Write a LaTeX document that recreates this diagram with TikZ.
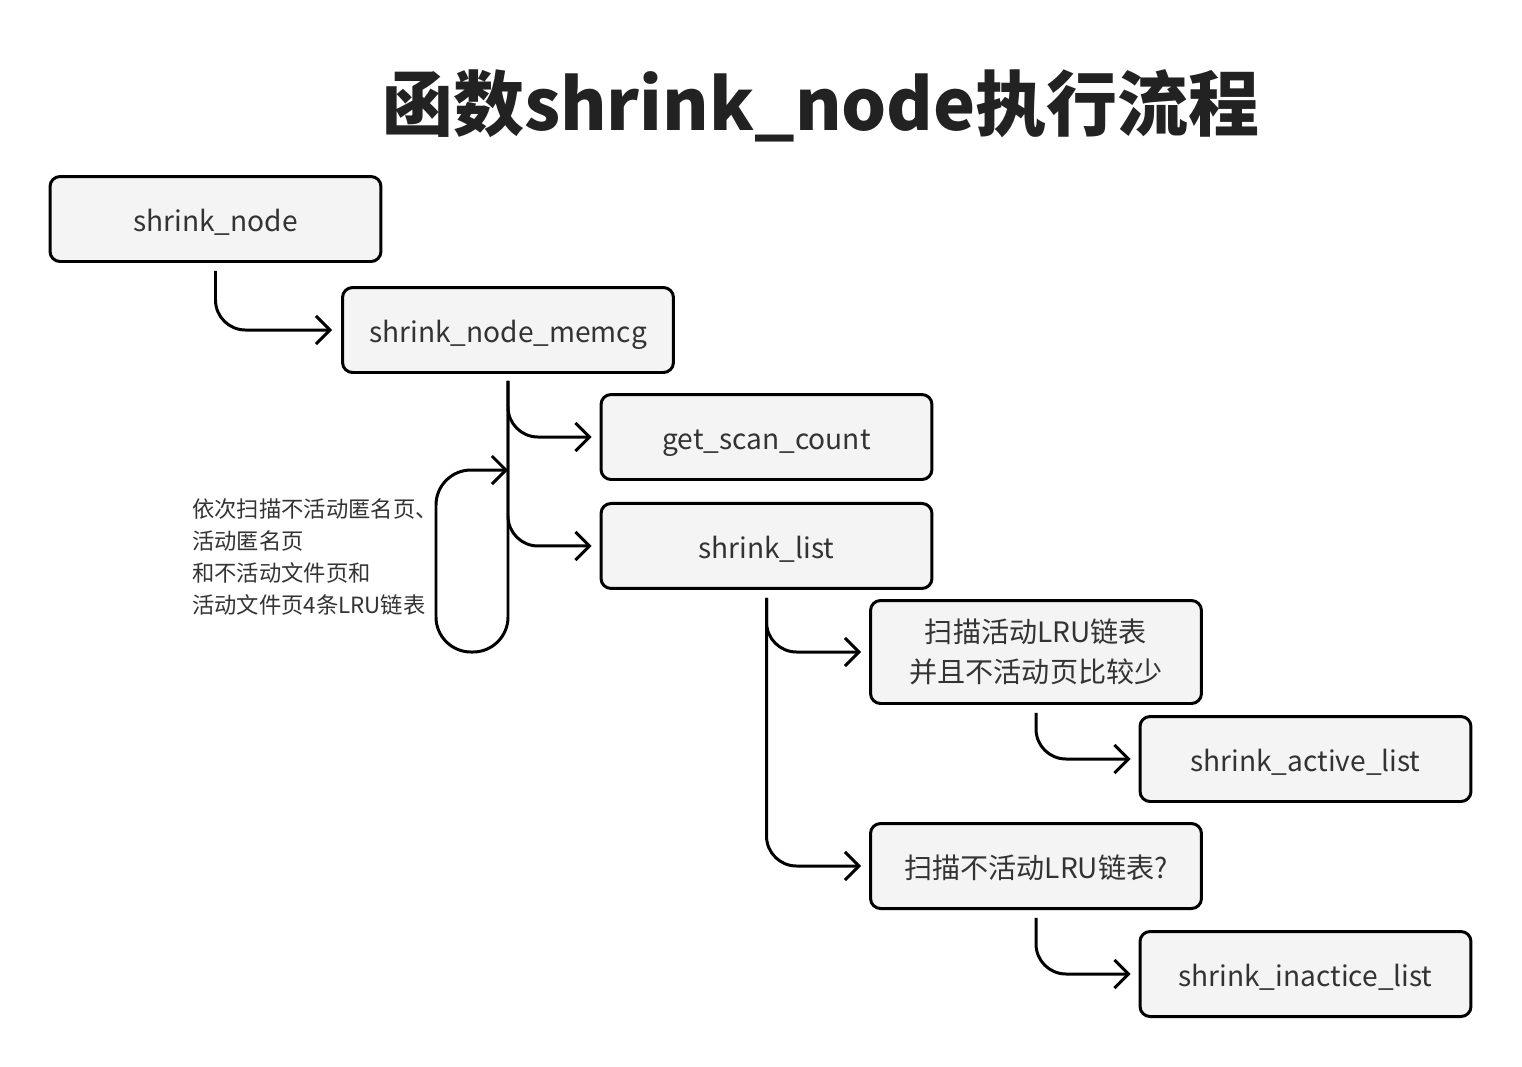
\documentclass[tikz,border=0pt]{standalone}
\usepackage{fontspec}
\setmainfont{Noto Sans CJK SC}
\usetikzlibrary{arrows.meta}
\usetikzlibrary{positioning}
\definecolor{boxgray}{HTML}{F4F4F4}
\definecolor{textgray}{HTML}{333333}
\definecolor{titlegray}{HTML}{222222}
\begin{document}
\begin{tikzpicture}[x=0.02cm, y=-0.02cm,
            box/.style = {draw, line width=1.7pt, rounded corners=0.2cm,
                fill=boxgray, text=textgray, align=center,
                minimum width=6.62cm, minimum height=1.7cm,
                font=\fontsize{16}{23}\selectfont},
            linebox/.style = {box, text height=0.6cm, text depth=0.1cm},
            flow/.style = {line width=1.7pt, rounded corners=0.6cm,
                -{Straight Barb[length=8pt,width=16pt]}},
            note/.style = {align=left, text=textgray,
                font=\fontsize{12.7}{18.2}\selectfont}]
            \useasboundingbox (0,0) rectangle (1522,1066);
            % title
            \node[text=titlegray, font=\fontsize{40.4}{48}\selectfont\bfseries] (title) at (821,106) {函数shrink\_node执行流程};
            % boxes
            \node[linebox] (node) at (215.5,219) {shrink\_node};
            \node[linebox] (memcg) at (508,330) {shrink\_node\_memcg};
            \node[linebox] (scan) at (766.5,437) {get\_scan\_count};
            \node[linebox, below=0.42cm of scan] (list) {shrink\_list};
            \node[box, minimum height=2.06cm] (active) at (1036,652) {扫描活动LRU链表\\并且不活动页比较少};
            \node[linebox] (sal) at (1305.5,759) {shrink\_active\_list};
            \node[linebox] (inactive) at (1036,866) {扫描不活动LRU链表?};
            \node[linebox] (sil) at (1305.5,974) {shrink\_inactice\_list};
            % connectors
            \draw[flow] ([yshift=-0.16cm]node.south) |- ([xshift=-0.18cm]memcg.west);
            \coordinate (trunk) at ([yshift=-0.14cm]memcg.south);
            \draw[flow] (trunk) |- ([xshift=-0.16cm]scan.west);
            \draw[flow] (trunk) |- ([xshift=-0.16cm]list.west);
            \draw[flow, rounded corners=0.7cm] (trunk) -- (trunk |- 0,652) -- (436,652)
                -- (436,470) -- (trunk |- 0,470);
            \coordinate (split) at ([yshift=-0.16cm]list.south);
            \draw[flow] (split) |- ([xshift=-0.16cm]active.west);
            \draw[flow] (split) |- ([xshift=-0.16cm]inactive.west);
            \draw[flow] ([yshift=-0.16cm]active.south) |- ([xshift=-0.16cm]sal.west);
            \draw[flow] ([yshift=-0.16cm]inactive.south) |- ([xshift=-0.16cm]sil.west);
            % loop label
            \node[note, anchor=west] (loop) at (186,557) {依次扫描不活动匿名页、\\活动匿名页\\和不活动文件页和\\活动文件页4条LRU链表};
\end{tikzpicture}
\end{document}
